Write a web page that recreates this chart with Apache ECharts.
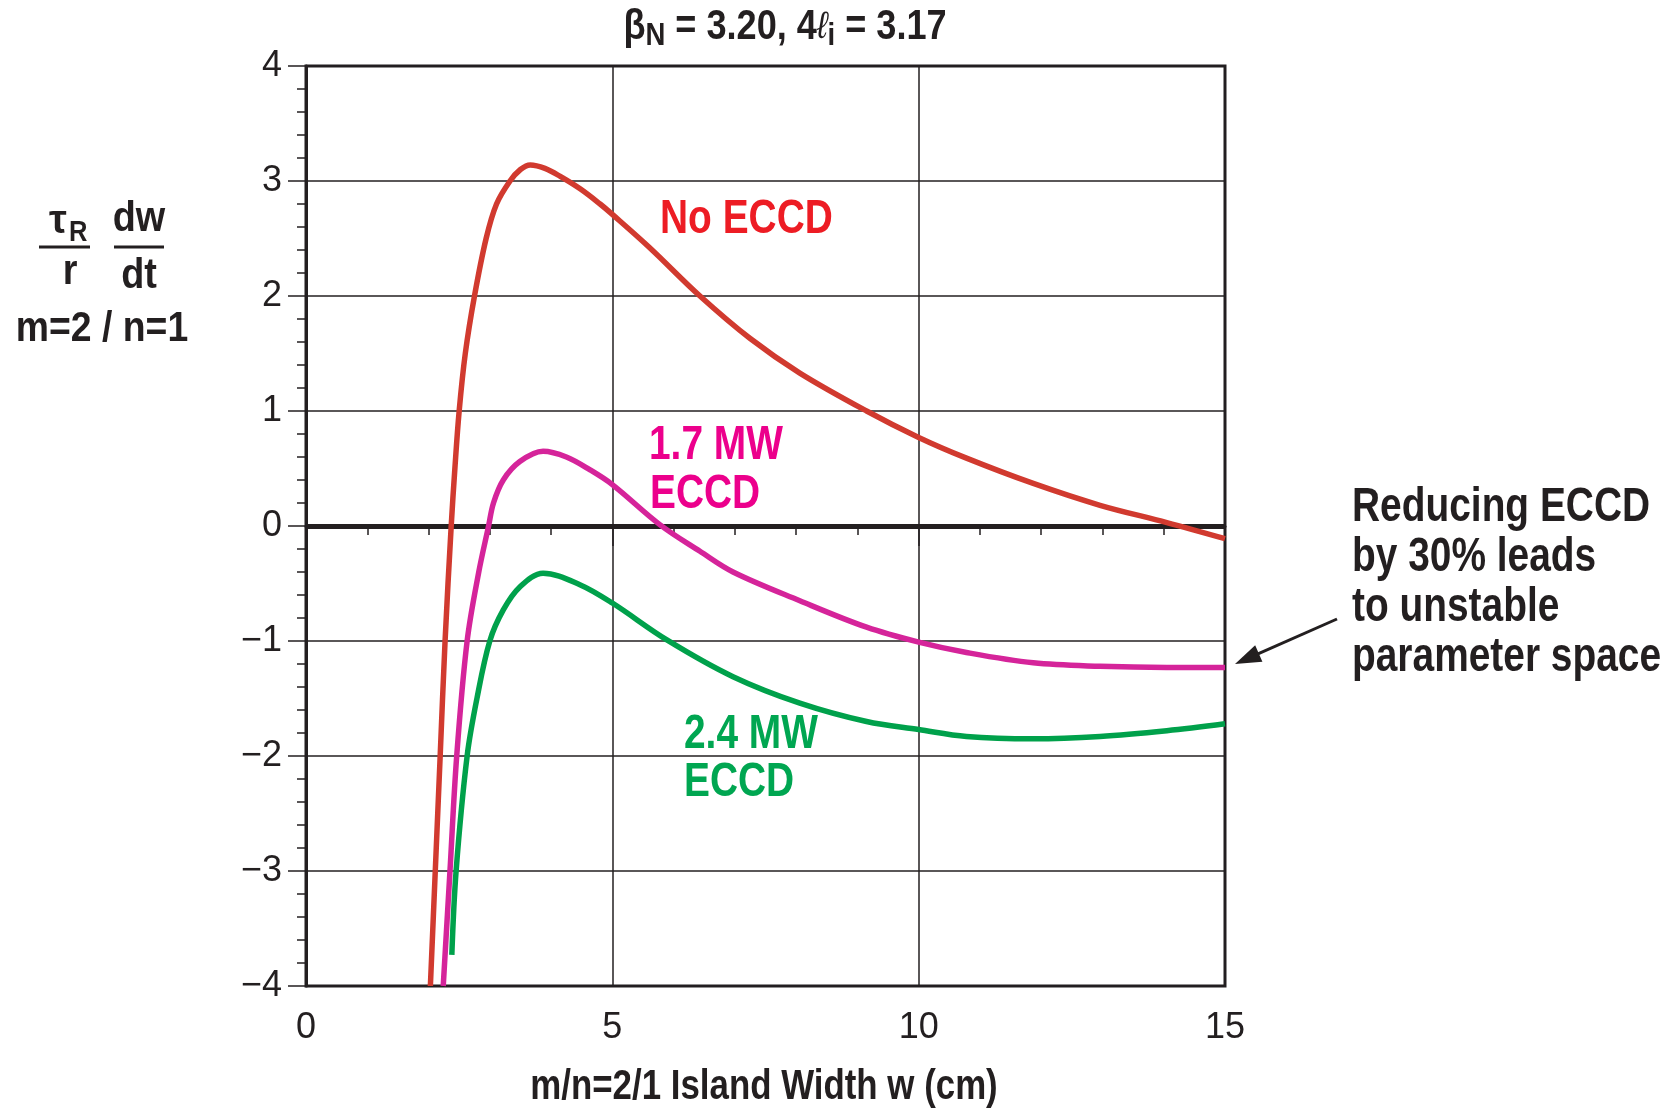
<!DOCTYPE html>
<html>
<head>
<meta charset="utf-8">
<script src="https://cdn.jsdelivr.net/npm/echarts@6/dist/echarts.min.js"></script>
<style>
  html, body { margin: 0; padding: 0; background: #fff; }
  #container { width: 1674px; height: 1110px; }
</style>
</head>
<body>
<div id="container"></div>
<script>
const container = document.getElementById('container');
const chartIns = echarts.init(container, undefined, { renderer: 'canvas' });

// island width w (cm) vs tau_R/r dw/dt
const noEccd = [
  [2.03, -4], [2.11, -3], [2.19, -2], [2.27, -1], [2.37, 0], [2.43, 0.5], [2.5, 1],
  [2.6, 1.5], [2.75, 2], [2.94, 2.5], [3.11, 2.8], [3.33, 3.0], [3.5, 3.1], [3.66, 3.14],
  [3.9, 3.11], [4.15, 3.04], [4.48, 2.93], [4.8, 2.8], [5, 2.71], [5.61, 2.42], [6.43, 2.0],
  [7.25, 1.63], [8.06, 1.33], [9.15, 1.0], [10, 0.77], [10.78, 0.59], [11.87, 0.37],
  [12.96, 0.18], [14.05, 0.03], [15, -0.11]
];
const eccd17 = [
  [2.24, -4], [2.35, -3], [2.46, -2], [2.63, -1], [2.82, -0.4], [2.98, 0], [3.06, 0.2],
  [3.22, 0.4], [3.49, 0.56], [3.87, 0.65], [4.25, 0.6], [4.63, 0.49], [5, 0.36], [5.78, 0.01],
  [6.43, -0.22], [6.97, -0.4], [8.06, -0.65], [9.15, -0.88], [10, -1.01], [10.78, -1.1],
  [11.87, -1.19], [12.96, -1.22], [14.05, -1.23], [15, -1.23]
];
const eccd24 = [
  [2.38, -3.73], [2.45, -3], [2.63, -2], [2.79, -1.5], [3.0, -1], [3.22, -0.73], [3.49, -0.53],
  [3.87, -0.41], [4.47, -0.51], [5, -0.67], [5.89, -0.99], [6.97, -1.31], [8.06, -1.54],
  [9.15, -1.70], [10, -1.77], [10.78, -1.83], [11.87, -1.85], [12.96, -1.83], [14.05, -1.78],
  [15, -1.72]
];

const INK = '#231f20';
const FONT = '"Liberation Sans", Arial, "DejaVu Sans", sans-serif';

function txt(text, x, y, size, color, sx, align, weight) {
  return {
    type: 'text', x: x, y: y, scaleX: sx, z: 20,
    style: {
      text: text, fill: color,
      font: (weight || 'bold') + ' ' + size + 'px ' + FONT,
      textAlign: align || 'left', align: align || 'left',
      textVerticalAlign: 'middle', verticalAlign: 'middle'
    }
  };
}

// arrow pointing at the right edge
const arrowFrom = [1337, 619];
const arrowTip = [1235, 664];
function arrow() {
  const dx = arrowTip[0] - arrowFrom[0], dy = arrowTip[1] - arrowFrom[1];
  const len = Math.sqrt(dx * dx + dy * dy);
  const ux = dx / len, uy = dy / len;
  const bx = arrowTip[0] - 26 * ux, by = arrowTip[1] - 26 * uy;
  return [
    { type: 'line', z: 20, shape: { x1: arrowFrom[0], y1: arrowFrom[1], x2: bx + 4 * ux, y2: by + 4 * uy },
      style: { stroke: INK, lineWidth: 3 } },
    { type: 'polygon', z: 20, shape: { points: [arrowTip, [bx - 9 * uy, by + 9 * ux], [bx + 9 * uy, by - 9 * ux]] },
      style: { fill: INK } }
  ];
}

const noteLines = ['Reducing ECCD', 'by 30% leads', 'to unstable', 'parameter space'];

const graphics = [
  // title
  {
    type: 'text', x: 785, y: 27, scaleX: 0.86, z: 20,
    style: {
      text: '{a|β}{s|N}{a| = 3.20, 4}{l|ℓ}{s|i}{a| = 3.17}',
      textAlign: 'center', align: 'center', textVerticalAlign: 'middle', verticalAlign: 'middle',
      fill: INK,
      rich: {
        a: { font: 'bold 42px ' + FONT, fill: INK, lineHeight: 50, verticalAlign: 'middle' },
        l: { font: 'italic 38px ' + FONT, fill: INK, lineHeight: 50, verticalAlign: 'middle' },
        s: { font: 'bold 32px ' + FONT, fill: INK, lineHeight: 24, verticalAlign: 'bottom' }
      }
    }
  },
  // y axis label
  txt('τ', 58, 222, 40, INK, 1, 'center'),
  txt('R', 69, 233, 30, INK, 0.85, 'left'),
  { type: 'line', z: 20, shape: { x1: 39, y1: 247, x2: 90, y2: 247 }, style: { stroke: INK, lineWidth: 3 } },
  txt('r', 70, 272, 42, INK, 0.9, 'center'),
  txt('dw', 139, 219, 42, INK, 0.9, 'center'),
  { type: 'line', z: 20, shape: { x1: 114, y1: 247, x2: 164, y2: 247 }, style: { stroke: INK, lineWidth: 3 } },
  txt('dt', 139, 276, 42, INK, 0.9, 'center'),
  txt('m=2 / n=1', 102, 329, 42, INK, 0.89, 'center'),
  // x axis label
  txt('m/n=2/1 Island Width w (cm)', 764, 1087, 42, INK, 0.83, 'center'),
  // curve labels
  txt('No ECCD', 660, 220, 48, '#ed1c24', 0.81),
  txt('1.7 MW', 649, 446, 48, '#ec008c', 0.81),
  txt('ECCD', 650, 495, 48, '#ec008c', 0.81),
  txt('2.4 MW', 684, 735, 48, '#00a651', 0.81),
  txt('ECCD', 684, 783, 48, '#00a651', 0.81)
].concat(noteLines.map((t, i) => txt(t, 1352, 508 + i * 50, 48, INK, 0.81)))
 .concat(arrow());

function curve(name, data, color) {
  return {
    name: name, type: 'line', data: data, smooth: 0.35,
    showSymbol: false, z: 5, silent: true,
    lineStyle: { color: color, width: 5.5 }
  };
}

const option = {
  backgroundColor: '#fff',
  animation: false,
  grid: {
    left: 306, top: 66, width: 919, height: 920,
    show: true, borderColor: INK, borderWidth: 3, backgroundColor: 'transparent'
  },
  xAxis: {
    type: 'value', min: 0, max: 15, interval: 5,
    axisLine: { lineStyle: { color: INK, width: 3 } },
    axisTick: { length: 20, lineStyle: { color: INK, width: 1.5 } },
    minorTick: { show: true, splitNumber: 5, length: 9, lineStyle: { color: INK, width: 1.5 } },
    splitLine: { lineStyle: { color: INK, width: 1.5 } },
    axisLabel: { fontSize: 36, color: INK, fontFamily: FONT, margin: 24 }
  },
  yAxis: {
    type: 'value', min: -4, max: 4, interval: 1,
    axisLine: { lineStyle: { color: INK, width: 3 } },
    axisTick: { length: 18, lineStyle: { color: INK, width: 1.5 } },
    minorTick: { show: true, splitNumber: 5, length: 9, lineStyle: { color: INK, width: 1.5 } },
    splitLine: { lineStyle: { color: INK, width: 1.5 } },
    axisLabel: {
      fontSize: 36, color: INK, fontFamily: FONT, margin: 24,
      formatter: v => (v < 0 ? '\u2212' + Math.abs(v) : String(v))
    }
  },
  series: [
    {
      name: 'zero', type: 'line', data: [], z: 3, silent: true,
      markLine: {
        silent: true, symbol: ['none', 'none'], label: { show: false }, animation: false,
        lineStyle: { color: INK, width: 5, type: 'solid' },
        data: [{ yAxis: 0 }]
      }
    },
    curve('No ECCD', noEccd, '#d13a2f'),
    curve('1.7 MW ECCD', eccd17, '#d5249a'),
    curve('2.4 MW ECCD', eccd24, '#00a14b')
  ],
  graphic: graphics
};

chartIns.setOption(option);
</script>
</body>
</html>
